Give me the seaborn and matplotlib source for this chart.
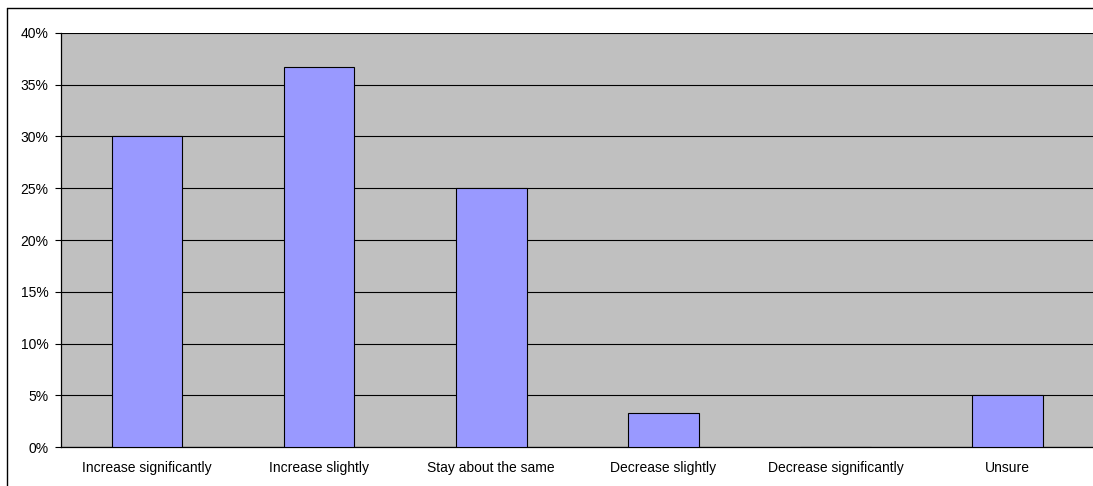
import matplotlib
matplotlib.use("Agg")
import matplotlib.pyplot as plt
import seaborn as sns
import pandas as pd
import numpy as np
from matplotlib.ticker import FixedLocator, PercentFormatter
from matplotlib.lines import Line2D

categories = ["Increase significantly", "Increase slightly", "Stay about the same",
              "Decrease slightly", "Decrease significantly", "Unsure"]
values = [30.0, 36.67, 25.0, 3.33, 0.0, 5.0]
ytick_values = [0, 5, 10, 15, 20, 25, 30, 35, 40]

sns.set_style("white")
plt.rcParams['font.family'] = ['Liberation Sans', 'DejaVu Sans']

fig = plt.figure(figsize=(10.93, 4.86), dpi=100)
ax = fig.add_axes([61/1093, 39/486, 1 - 61/1093 + 0.0005, (447-33)/486])

df = pd.DataFrame({"cat": categories, "val": values})
sns.barplot(data=df, x="cat", y="val", order=categories, color="#9999FF",
            saturation=1, edgecolor="black", linewidth=0.8, width=0.41, ax=ax, zorder=3)

ax.set_facecolor("#C0C0C0")
ax.set_ylim(0, 40)
ax.set_xlim(-0.5, len(categories) - 0.5)
ax.yaxis.set_major_locator(FixedLocator(ytick_values))
ax.yaxis.set_major_formatter(PercentFormatter(decimals=0))
ax.grid(axis="y", color="black", linewidth=0.8, zorder=1)
ax.set_axisbelow(True)
ax.set_xlabel("")
ax.set_ylabel("")

ax.tick_params(axis="x", which="major", length=0, pad=10, labelsize=10, colors="black")
ax.xaxis.set_minor_locator(FixedLocator(np.arange(0.5, len(categories) - 0.5, 1)))
ax.tick_params(axis="x", which="minor", length=4, width=0.8, direction="out", color="black")
ax.tick_params(axis="y", length=4, width=0.8, direction="out", labelsize=10, pad=5, colors="black", left=True)

for s in ["top", "right"]:
    ax.spines[s].set_visible(False)
for s in ["left", "bottom"]:
    ax.spines[s].set_color("black")
    ax.spines[s].set_linewidth(0.9)

# outer chart-area border (top and left visible)
fig.add_artist(Line2D([7/1093, 1.0], [478/486, 478/486], color="black", linewidth=1.0, transform=fig.transFigure))
fig.add_artist(Line2D([7/1093, 7/1093], [0, 478/486], color="black", linewidth=1.0, transform=fig.transFigure))

fig.savefig("out.png", dpi=100)
